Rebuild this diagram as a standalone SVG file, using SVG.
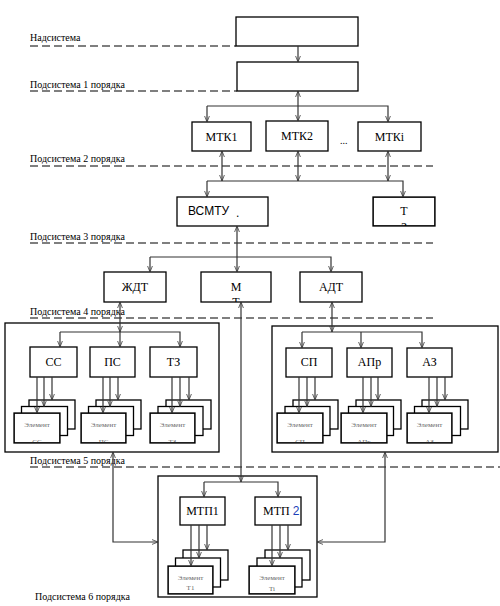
<svg xmlns="http://www.w3.org/2000/svg" width="500" height="606" viewBox="0 0 500 606">
<style>
.box{fill:#fff;stroke:#000;stroke-width:1.3}
.cont{fill:none;stroke:#000;stroke-width:1.3}
.lbl{font-family:"Liberation Serif",serif;font-size:10px;fill:#000}
.t{font-family:"Liberation Serif",serif;font-size:12px;fill:#000;text-anchor:middle}
.s{font-family:"Liberation Sans",Arial,sans-serif;font-size:12px;fill:#000}
.el{font-family:"Liberation Serif",serif;font-size:7px;fill:#666;text-anchor:middle}
.dash{stroke:#000;stroke-width:1.2;stroke-dasharray:8 4;fill:none}
.c{fill:none;stroke:#333;stroke-width:1.2}
.b{marker-end:url(#ah)}
.d{marker-start:url(#ah);marker-end:url(#ah)}
</style>
<defs>
<marker id="ah" viewBox="0 0 10 10" refX="10" refY="5" markerWidth="6" markerHeight="6" markerUnits="userSpaceOnUse" orient="auto-start-reverse">
<path d="M0,1 L10,5 L0,9" fill="none" stroke="#333" stroke-width="1.3"/>
</marker>
</defs>

<g id="levels">
<text class="lbl" x="30" y="41">Надсистема</text>
<line class="dash" x1="30" y1="46" x2="236" y2="46"/>
<text class="lbl" x="30" y="88">Подсистема 1 порядка</text>
<line class="dash" x1="30" y1="91" x2="237" y2="91"/>
<text class="lbl" x="30" y="162">Подсистема 2 порядка</text>
<line class="dash" x1="30" y1="166" x2="433" y2="166"/>
<text class="lbl" x="30" y="240">Подсистема 3 порядка</text>
<line class="dash" x1="30" y1="243" x2="433" y2="243"/>
<text class="lbl" x="30" y="315">Подсистема 4 порядка</text>
<line class="dash" x1="30" y1="318" x2="433" y2="318"/>
<text class="lbl" x="30" y="464">Подсистема 5 порядка</text>
<line class="dash" x1="30" y1="467" x2="500" y2="467"/>
<text class="lbl" x="35" y="600">Подсистема 6 порядка</text>
</g>

<g id="containers">
<rect class="cont" x="5" y="323" width="214" height="129"/>
<rect class="cont" x="272" y="326" width="226" height="126"/>
<rect class="cont" x="158" y="476" width="159" height="121"/>
</g>

<g id="top-box"><rect class="box" x="236" y="17" width="122" height="29"/></g>
<g id="sub1-box"><rect class="box" x="237" y="62" width="121" height="29"/></g>

<g id="mtk1"><rect class="box" x="192" y="122" width="59" height="29"/><text class="t" x="221.5" y="141">МТК1</text></g>
<g id="mtk2"><rect class="box" x="266" y="121" width="62" height="30"/><text class="t" x="297" y="140">МТК2</text></g>
<text class="lbl" x="340" y="144">...</text>
<g id="mtki"><rect class="box" x="358" y="122" width="63" height="29"/><text class="t" x="389.5" y="141">МТКi</text></g>

<g id="vsmtu"><rect class="box" x="177" y="197" width="91" height="29"/><text class="s" x="188" y="215">ВСМТУ</text><text class="s" x="236" y="217">.</text></g>
<g id="tz"><svg x="373" y="197" width="62" height="29"><rect class="box" x="0" y="0" width="62" height="29"/><text class="t" x="31" y="18">Т</text><text class="t" x="31" y="34">З</text></svg><rect class="cont" x="373" y="197" width="62" height="29"/></g>

<g id="zhdt"><rect class="box" x="104" y="272" width="62" height="30"/><text class="t" x="135" y="291">ЖДТ</text></g>
<g id="mt"><svg x="201" y="272" width="70" height="30"><text class="t" x="35" y="19">М</text><text class="t" x="35" y="34">Т</text></svg><rect class="cont" x="201" y="272" width="70" height="30"/></g>
<g id="adt"><rect class="box" x="300" y="272" width="62" height="30"/><text class="t" x="331" y="291">АДТ</text></g>

<g id="cc"><rect class="box" x="30" y="347" width="47" height="30"/><text class="t" x="53.5" y="366">СС</text></g>
<g id="ps"><rect class="box" x="90" y="347" width="45" height="30"/><text class="t" x="112.5" y="366">ПС</text></g>
<g id="tz2"><rect class="box" x="150" y="347" width="47" height="30"/><text class="t" x="173.5" y="366">ТЗ</text></g>
<g id="sp"><rect class="box" x="286" y="348" width="46" height="29"/><text class="t" x="309" y="366">СП</text></g>
<g id="apr"><rect class="box" x="347" y="348" width="45" height="29"/><text class="t" x="369.5" y="366">АПр</text></g>
<g id="az"><rect class="box" x="407" y="348" width="45" height="29"/><text class="t" x="429.5" y="366">АЗ</text></g>

<g id="mtp1"><rect class="box" x="180" y="497" width="45" height="28"/><text class="t" x="202.5" y="515">МТП1</text></g>
<g id="mtp2"><rect class="box" x="255" y="497" width="46" height="28"/><text class="t" x="263" y="515" style="text-anchor:start">МТП <tspan style="font-family:'Liberation Sans',Arial,sans-serif;fill:#1d3fb8">2</tspan></text></g>

<g id="el-cc">
<rect class="box" x="29" y="400" width="46" height="29"/><rect class="box" x="21.5" y="406.5" width="46" height="29"/>
<svg x="14" y="413" width="46" height="30"><rect class="box" x="0" y="0" width="46" height="30"/><text class="el" x="23" y="14">Элемент</text><text class="el" x="23" y="31">СС</text></svg><rect class="cont" x="14" y="413" width="46" height="30"/>
</g>
<g id="el-ps">
<rect class="box" x="96" y="400" width="45" height="29"/><rect class="box" x="88.5" y="406.5" width="45" height="29"/>
<svg x="81" y="413" width="45" height="30"><rect class="box" x="0" y="0" width="45" height="30"/><text class="el" x="22.5" y="14">Элемент</text><text class="el" x="22.5" y="31">ПС</text></svg><rect class="cont" x="81" y="413" width="45" height="30"/>
</g>
<g id="el-tz">
<rect class="box" x="166" y="400" width="45" height="29"/><rect class="box" x="158" y="406.5" width="45" height="29"/>
<svg x="150" y="413" width="45" height="30"><rect class="box" x="0" y="0" width="45" height="30"/><text class="el" x="22.5" y="14">Элемент</text><text class="el" x="22.5" y="31">ТЗ</text></svg><rect class="cont" x="150" y="413" width="45" height="30"/>
</g>
<g id="el-sp">
<rect class="box" x="293" y="400" width="45" height="29"/><rect class="box" x="285" y="406.5" width="45" height="29"/>
<svg x="277" y="413" width="46" height="30"><rect class="box" x="0" y="0" width="46" height="30"/><text class="el" x="23" y="14">Элемент</text><text class="el" x="23" y="31">СП</text></svg><rect class="cont" x="277" y="413" width="46" height="30"/>
</g>
<g id="el-apr">
<rect class="box" x="356" y="400" width="45" height="29"/><rect class="box" x="348.5" y="406.5" width="45" height="29"/>
<svg x="341" y="413" width="46" height="30"><rect class="box" x="0" y="0" width="46" height="30"/><text class="el" x="23" y="14">Элемент</text><text class="el" x="23" y="31">АПр</text></svg><rect class="cont" x="341" y="413" width="46" height="30"/>
</g>
<g id="el-az">
<rect class="box" x="422" y="400" width="46" height="29"/><rect class="box" x="414.5" y="406.5" width="46" height="29"/>
<svg x="407" y="413" width="45" height="30"><rect class="box" x="0" y="0" width="45" height="30"/><text class="el" x="22.5" y="14">Элемент</text><text class="el" x="22.5" y="31">АЗ</text></svg><rect class="cont" x="407" y="413" width="45" height="30"/>
</g>
<g id="el-t1">
<rect class="box" x="183" y="550" width="45" height="30"/><rect class="box" x="175.5" y="558" width="45" height="29"/>
<svg x="168" y="566" width="45" height="28"><rect class="box" x="0" y="0" width="45" height="28"/><text class="el" x="22.5" y="14">Элемент</text><text class="el" x="22.5" y="24">Т1</text></svg><rect class="cont" x="168" y="566" width="45" height="28"/>
</g>
<g id="el-ti">
<rect class="box" x="265" y="550" width="45" height="30"/><rect class="box" x="257" y="558" width="45" height="29"/>
<svg x="249" y="566" width="46" height="28"><rect class="box" x="0" y="0" width="46" height="28"/><text class="el" x="23" y="14">Элемент</text><text class="el" x="23" y="25">Ti</text></svg><rect class="cont" x="249" y="566" width="46" height="28"/>
</g>

<g id="connectors">
<path class="c b" d="M298,46 V62"/>
<path class="c d" d="M298,91 V121"/>
<path class="c b" d="M207,106 H388 V122"/>
<path class="c b" d="M207,106 V122"/>
<path class="c d" d="M222,151 V181"/>
<path class="c d" d="M298,151 V181"/>
<path class="c d" d="M388,151 V181"/>
<path class="c b" d="M207,181 H403 V197"/>
<path class="c b" d="M207,181 V197"/>
<path class="c d" d="M237,226 V272"/>
<path class="c b" d="M150,257 H331 V272"/>
<path class="c b" d="M150,257 V272"/>
<path class="c d" d="M120,302 V332"/>
<path class="c b" d="M120,332 V347"/>
<path class="c b" d="M60,332 H180 V347"/>
<path class="c b" d="M60,332 V347"/>
<path class="c d" d="M332,302 V332"/>
<path class="c b" d="M302,332 H422 V348"/>
<path class="c b" d="M302,332 V348"/>
<path class="c b" d="M361,332 V348"/>
<path class="c d" d="M241,302 V482"/>
<path class="c b" d="M204,482 H278 V497"/>
<path class="c b" d="M204,482 V497"/>
<path class="c d" d="M113,452 V542 H158"/>
<path class="c d" d="M385,452 V542 H317"/>
<path class="c b" d="M37,377 V413"/><path class="c b" d="M44,377 V406.5"/><path class="c b" d="M52,377 V400"/>
<path class="c b" d="M103,377 V413"/><path class="c b" d="M110,377 V406.5"/><path class="c b" d="M118,377 V400"/>
<path class="c b" d="M172,377 V413"/><path class="c b" d="M180,377 V406.5"/><path class="c b" d="M189,377 V400"/>
<path class="c b" d="M299,377 V413"/><path class="c b" d="M307,377 V406.5"/><path class="c b" d="M315,377 V400"/>
<path class="c b" d="M363,377 V413"/><path class="c b" d="M371,377 V406.5"/><path class="c b" d="M378,377 V400"/>
<path class="c b" d="M429,377 V413"/><path class="c b" d="M437,377 V406.5"/><path class="c b" d="M445,377 V400"/>
<path class="c b" d="M191,525 V566"/><path class="c b" d="M199,525 V558"/><path class="c b" d="M207,525 V550"/>
<path class="c b" d="M272,525 V566"/><path class="c b" d="M280,525 V558"/><path class="c b" d="M288,525 V550"/>
</g>
</svg>
